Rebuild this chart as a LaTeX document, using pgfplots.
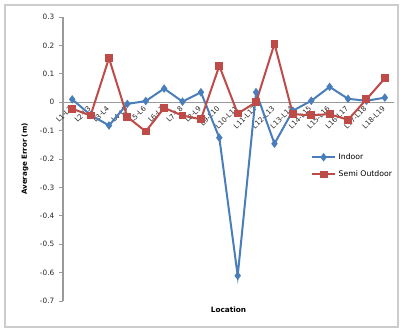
\documentclass[border=0pt]{standalone}
\usepackage{fontspec}
\setmainfont{DejaVu Sans}
\usepackage{pgfplots}
\pgfplotsset{compat=1.18}
\definecolor{ind}{HTML}{4A7EBB}
\definecolor{semi}{HTML}{BE4B48}
\definecolor{axgray}{HTML}{9A9A9A}
\begin{document}
\begin{tikzpicture}[x=0.75pt,y=0.75pt]
\useasboundingbox (-63,-28) rectangle (337,301);
\draw[gray!40, line width=1pt] (-58,-26) rectangle (335,296);
\begin{axis}[
  anchor=south west,
  scale only axis, width=248.25pt, height=213pt,
  xmin=0.5, xmax=18.5, ymin=-0.7, ymax=0.3,
  axis x line=middle, axis y line=left,
  axis line style={-, draw=axgray, line width=0.8pt},
  hide obscured x ticks=false, hide obscured y ticks=false,
  xtick={1,...,18},
  xticklabels={L1-L2,L2-L3,L3-L4,L4-L5,L5-L6,L6-L7,L7-L8,L8-L9,L9-L10,L10-L11,L11-L12,L12-L13,L13-L14,L14-L15,L15-L16,L16-L17,L17-L18,L18-L19},
  x tick label style={rotate=45, anchor=east, font=\fontsize{5.3}{6}\selectfont, inner sep=1pt, text=black!85},
  ytick={-0.7,-0.6,...,0.31},
  y tick label style={font=\fontsize{5.5}{6}\selectfont, text=black!85, /pgf/number format/fixed, /pgf/number format/precision=1, /pgf/number format/assume math mode=true},
  tick align=outside, major tick length=3pt,
  tick style={draw=axgray, line width=0.6pt},
  xtick style={draw=none},
  ylabel={\bfseries Average Error (m)},
  ylabel style={at={(axis description cs:-0.115,0.5)}, anchor=center, font=\fontsize{5.3}{6}\selectfont},
  xlabel={\bfseries Location},
  xlabel style={at={(axis description cs:0.5,-0.03)}, anchor=center, font=\fontsize{5.5}{6}\selectfont},
  legend style={at={(axis description cs:0.745,0.535)}, anchor=north west, draw=none, fill=none, font=\fontsize{5.8}{7}\selectfont, row sep=3pt, inner sep=1pt},
  legend cell align=left,
  clip=false,
]
\addplot[color=ind, line width=1.5pt, mark=diamond*, mark size=2pt, mark options={solid}] coordinates {
(1,0.010) (2,-0.045) (3,-0.082) (4,-0.006) (5,0.004) (6,0.048) (7,0.002) (8,0.035) (9,-0.125)
(10,-0.611) (11,0.035) (12,-0.146) (13,-0.030) (14,0.005) (15,0.054) (16,0.012) (17,0.005) (18,0.016)
};
\addlegendentry{Indoor}
\addplot[color=semi, line width=1.5pt, mark=square*, mark size=2.2pt, mark options={solid}] coordinates {
(1,-0.023) (2,-0.047) (3,0.155) (4,-0.052) (5,-0.103) (6,-0.020) (7,-0.047) (8,-0.060) (9,0.128)
(10,-0.040) (11,0.000) (12,0.206) (13,-0.042) (14,-0.046) (15,-0.042) (16,-0.062) (17,0.010) (18,0.084)
};
\addlegendentry{Semi Outdoor}
\end{axis}
\end{tikzpicture}
\end{document}
